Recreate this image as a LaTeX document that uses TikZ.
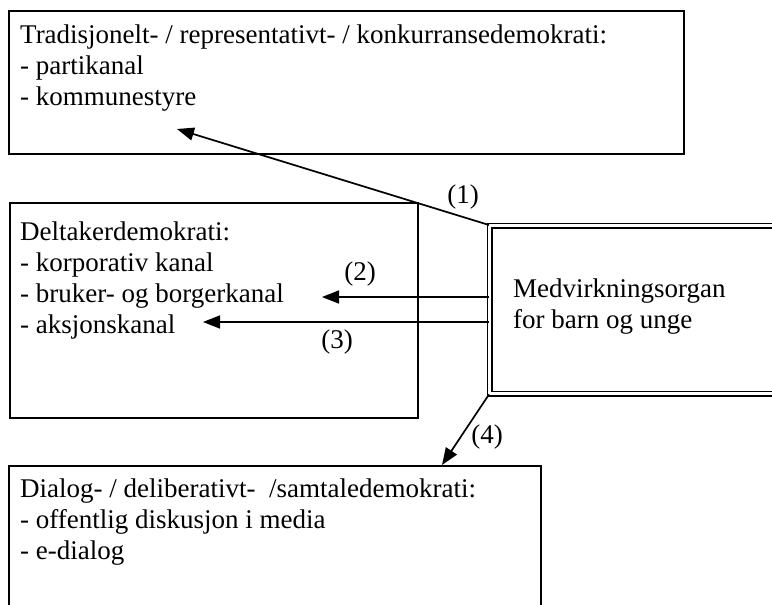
\documentclass[tikz,border=0pt]{standalone}
\usepackage{fontspec}
\setmainfont{Liberation Serif}
\usetikzlibrary{arrows.meta}
\begin{document}
\begin{tikzpicture}[x=1pt,y=-1pt,
  box/.style={draw, line width=1.5pt, inner sep=0pt, anchor=north west},
  dbox/.style={draw, double, line width=1.4pt, double distance=2.8pt, inner sep=0pt, anchor=north west},
  txt/.style={inner sep=0pt, align=left, anchor=base west, font=\fontsize{27}{31}\selectfont},
  lbl/.style={inner sep=0pt, font=\fontsize{27}{31}\selectfont},
  conn/.style={line width=1.7pt, -{Triangle[length=17pt,width=13pt]}}]
\useasboundingbox (0,0) rectangle (772,605);
\begin{scope}
\clip (0,0) rectangle (772,605);
% the four boxes
\node[box, minimum width=675pt, minimum height=143pt] (trad) at (8,10) {};
\node[box, minimum width=408pt, minimum height=215pt] (delt) at (9,202) {};
\node[dbox, minimum width=330pt, minimum height=168pt] (med) at (489,225) {};
\node[box, minimum width=532pt, minimum height=200pt] (dial) at (8,465) {};
\end{scope}
% box texts (anchored at the baseline of their last line)
\node[txt] (tradtxt) at (20,105) {Tradisjonelt- / representativt- / konkurransedemokrati:\\- partikanal\\- kommunestyre};
\node[txt] (delttxt) at (20,333) {Deltakerdemokrati:\\- korporativ kanal\\- bruker- og borgerkanal\\- aksjonskanal};
\node[txt] (medtxt) at (513,328) {Medvirkningsorgan\\for barn og unge};
\node[txt] (dialtxt) at (20,559) {Dialog- / deliberativt-\ \ /samtaledemokrati:\\- offentlig diskusjon i media\\- e-dialog};
% arrow end points
\coordinate (t1) at (177,129);
\coordinate (t2) at (322,297);
\coordinate (t3) at (203,322);
\coordinate (t4) at (442,465);
% connectors
\draw[conn] (med.north west) -- (t1);
\draw[conn] (med.west |- t2) -- (t2);
\draw[conn] (med.west |- t3) -- (t3);
\draw[conn] (med.south west) -- (t4);
% connector labels
\node[lbl] (l1) at (463,197) {(1)};
\node[lbl] (l2) at (360,274) {(2)};
\node[lbl] (l3) at (337,342) {(3)};
\node[lbl] (l4) at (487,437) {(4)};
\end{tikzpicture}
\end{document}
